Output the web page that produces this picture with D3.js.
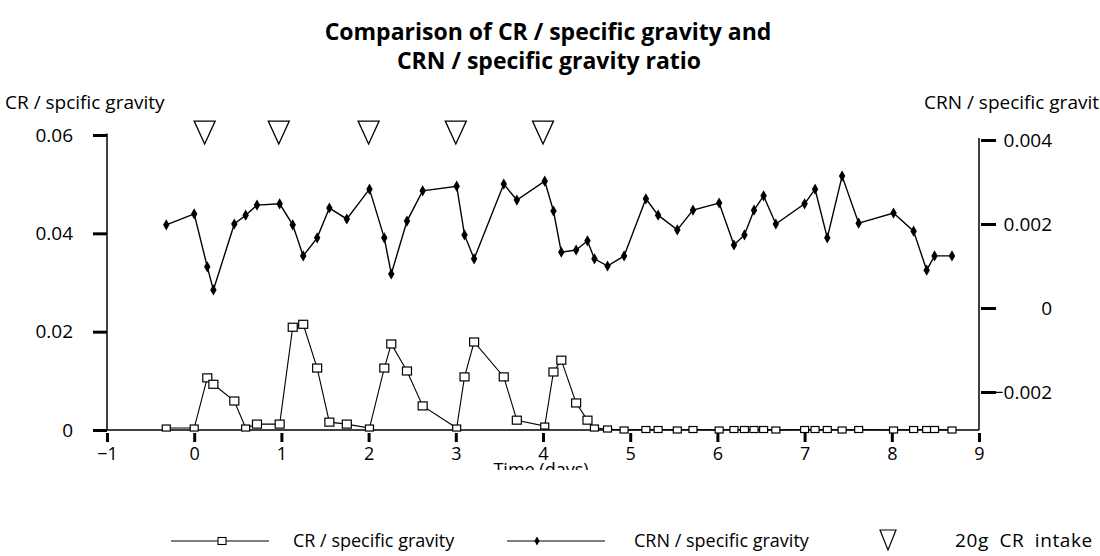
<!DOCTYPE html>
<html>
<head>
<meta charset="utf-8">
<script src="https://cdn.jsdelivr.net/npm/d3@7"></script>
<style>
  html, body { margin: 0; padding: 0; background: #fff; }
  svg { display: block; }
  text { font-family: "Open Sans", "Noto Sans", sans-serif; fill: #000; }
</style>
</head>
<body>
<svg id="chart" width="1100" height="556"></svg>
<script>
// ---- Data ----
const times = [-0.32, 0.00, 0.15, 0.22, 0.46, 0.59, 0.72, 0.98, 1.13, 1.25, 1.41, 1.55, 1.75, 2.01, 2.18, 2.26, 2.44, 2.62,
  3.01, 3.10, 3.21, 3.55, 3.70, 4.02, 4.12, 4.21, 4.38, 4.51, 4.59, 4.74, 4.93, 5.18, 5.32, 5.54, 5.72, 6.02, 6.19, 6.31,
  6.42, 6.53, 6.67, 7.00, 7.12, 7.26, 7.43, 7.62, 8.02, 8.25, 8.40, 8.49, 8.69];

const crValues = [0.0004, 0.0004, 0.0106, 0.0093, 0.0059, 0.0004, 0.0012, 0.0012, 0.0209, 0.0215, 0.0126, 0.0016, 0.0012,
  0.0004, 0.0126, 0.0175, 0.0120, 0.0049, 0.0004, 0.0108, 0.0179, 0.0108, 0.0020, 0.0008, 0.0118, 0.0142, 0.0055, 0.0020,
  0.0004, 0.0002, 0.0000, 0.0001, 0.0001, 0.0000, 0.0001, 0.0000, 0.0001, 0.0001, 0.0001, 0.0001, 0.0000, 0.0001, 0.0001,
  0.0001, 0.0000, 0.0001, 0.0000, 0.0001, 0.0001, 0.0001, 0.0000];

const crnValues = [0.00198, 0.00224, 0.00098, 0.00043, 0.00200, 0.00221, 0.00245, 0.00248, 0.00198, 0.00124, 0.00167,
  0.00238, 0.00212, 0.00283, 0.00167, 0.00081, 0.00207, 0.00279, 0.00290, 0.00174, 0.00117, 0.00295, 0.00257, 0.00302,
  0.00231, 0.00133, 0.00138, 0.00160, 0.00117, 0.00100, 0.00124, 0.00260, 0.00221, 0.00186, 0.00233, 0.00250, 0.00150,
  0.00174, 0.00233, 0.00267, 0.00200, 0.00248, 0.00283, 0.00167, 0.00314, 0.00202, 0.00226, 0.00183, 0.00090, 0.00124,
  0.00124];

const intakeTimes = [0.12, 0.97, 2.0, 3.0, 4.0];

const xTicks = [-1, 0, 1, 2, 3, 4, 5, 6, 7, 8, 9];
const leftTicks = [0, 0.02, 0.04, 0.06];
const rightTicks = [-0.002, 0, 0.002, 0.004];

const titleLines = ["Comparison of  CR / specific gravity and", "CRN / specific gravity ratio"];
const leftLabel = "CR / spcific gravity";
const rightLabel = "CRN / specific gravit";
const xLabel = "Time (days)";
const legendLabels = ["CR / specific gravity", "CRN / specific gravity", "20g CR intake"];

// ---- Scales ----
const svg = d3.select("#chart");
const x = d3.scaleLinear().domain([-1, 9]).range([107, 979]);
const yL = d3.scaleLinear().domain([0, 0.06]).range([430, 135]);
const yR = d3.scaleLinear().domain([-0.002, 0.004]).range([392, 140]);

// ---- Title ----
svg.append("text").attr("x", 548).attr("y", 40).attr("text-anchor", "middle")
  .style("font-size", "23px").style("font-weight", "bold").text(titleLines[0]);
svg.append("text").attr("x", 549).attr("y", 69).attr("text-anchor", "middle")
  .style("font-size", "23px").style("font-weight", "bold").text(titleLines[1]);

// axis titles
svg.append("text").attr("x", 5).attr("y", 109).style("font-size", "19px").text(leftLabel);
svg.append("text").attr("x", 1099).attr("y", 109).attr("text-anchor", "end").style("font-size", "19px").text(rightLabel);

// ---- Left axis ----
const gL = svg.append("g").attr("transform", `translate(${x(-1)},0)`)
  .call(d3.axisLeft(yL).tickValues(leftTicks).tickSize(14).tickPadding(20)
    .tickFormat(d => d === 0 ? "0" : d3.format(".2f")(d)));
gL.select(".domain").remove();
gL.selectAll(".tick line").attr("stroke", "#000").attr("stroke-width", 3);
gL.selectAll(".tick text").style("font-size", "19px").style("font-family", "'Open Sans', sans-serif");
svg.append("line").attr("x1", x(-1)).attr("x2", x(-1)).attr("y1", yL(0.06) - 1.5).attr("y2", yL(0))
  .attr("stroke", "#000").attr("stroke-width", 1.5);

// ---- Right axis ----
const gR = svg.append("g").attr("transform", `translate(${x(9) + 2},0)`)
  .call(d3.axisRight(yR).tickValues(rightTicks).tickSize(15).tickPadding(0)
    .tickFormat(d => d === 0 ? "0" : d3.format(".3f")(d)));
gR.select(".domain").remove();
gR.selectAll(".tick line").attr("stroke", "#000").attr("stroke-width", 3);
gR.selectAll(".tick text").attr("x", 71).attr("text-anchor", "end")
  .style("font-size", "19px").style("font-family", "'Open Sans', sans-serif");
svg.append("line").attr("x1", x(9)).attr("x2", x(9)).attr("y1", yR(0.004) - 2).attr("y2", yL(0))
  .attr("stroke", "#000").attr("stroke-width", 1.5);

// ---- X axis ----
const gX = svg.append("g").attr("transform", `translate(0,${yL(0)})`)
  .call(d3.axisBottom(x).tickValues(xTicks).tickSize(12).tickPadding(5).tickFormat(d3.format("d")));
gX.select(".domain").remove();
gX.selectAll(".tick line").attr("stroke", "#000").attr("stroke-width", 3).attr("y1", 3);
gX.selectAll(".tick text").style("font-size", "18px").style("font-family", "'Open Sans', sans-serif");
svg.append("line").attr("x1", x(-1)).attr("x2", x(9)).attr("y1", yL(0)).attr("y2", yL(0))
  .attr("stroke", "#000").attr("stroke-width", 1.5);

// x label, clipped like the reference
svg.append("clipPath").attr("id", "xlabclip").append("rect")
  .attr("x", 0).attr("y", 461).attr("width", 1100).attr("height", 9);
svg.append("text").attr("x", 541).attr("y", 476).attr("text-anchor", "middle")
  .attr("clip-path", "url(#xlabclip)").style("font-size", "18px").text(xLabel);

// ---- Intake triangles ----
const triPath = (cx, cy, w, h) => `M${cx - w / 2},${cy - h / 2}L${cx + w / 2},${cy - h / 2}L${cx},${cy + h / 2}Z`;
svg.selectAll(".intake").data(intakeTimes).join("path").attr("class", "intake")
  .attr("d", d => triPath(x(d), yL(0.0605), 21, 23))
  .attr("fill", "none").attr("stroke", "#000").attr("stroke-width", 1.3);

// ---- CR series ----
const crData = times.map((t, i) => ({ t, v: crValues[i] }));
const crnData = times.map((t, i) => ({ t, v: crnValues[i] }));

svg.append("path").datum(crData)
  .attr("d", d3.line().x(d => x(d.t)).y(d => yL(d.v)))
  .attr("fill", "none").attr("stroke", "#000").attr("stroke-width", 1.1);
svg.selectAll(".crpt").data(crData).join("rect").attr("class", "crpt")
  .attr("x", d => x(d.t) - (d.v < 0.001 ? 4 : 4.5)).attr("y", d => yL(d.v) - (d.v < 0.001 ? 3 : 4))
  .attr("width", d => d.v < 0.001 ? 8 : 9).attr("height", d => d.v < 0.001 ? 6 : 8)
  .attr("fill", "#fff").attr("stroke", "#000").attr("stroke-width", 1.2);

// ---- CRN series ----
svg.append("path").datum(crnData)
  .attr("d", d3.line().x(d => x(d.t)).y(d => yR(d.v)))
  .attr("fill", "none").attr("stroke", "#000").attr("stroke-width", 1.4);
const diamond = d3.symbol().type(d3.symbolDiamond).size(36);
svg.selectAll(".crnpt").data(crnData).join("path").attr("class", "crnpt")
  .attr("transform", d => `translate(${x(d.t)},${yR(d.v)})`)
  .attr("d", diamond).attr("fill", "#000");

// ---- Legend ----
const ly = 541;
svg.append("line").attr("x1", 171).attr("x2", 269).attr("y1", ly).attr("y2", ly).attr("stroke", "#000").attr("stroke-width", 1.1);
svg.append("rect").attr("x", 218).attr("y", ly - 3.5).attr("width", 8).attr("height", 7)
  .attr("fill", "#fff").attr("stroke", "#000").attr("stroke-width", 1.1);
svg.append("text").attr("x", 293).attr("y", ly + 6).style("font-size", "18px").text(legendLabels[0]);

svg.append("line").attr("x1", 507).attr("x2", 605).attr("y1", ly).attr("y2", ly).attr("stroke", "#000").attr("stroke-width", 1.1);
svg.append("path").attr("transform", `translate(537,${ly})`).attr("d", d3.symbol().type(d3.symbolDiamond).size(24)).attr("fill", "#000");
svg.append("text").attr("x", 634).attr("y", ly + 6).style("font-size", "18px").text(legendLabels[1]);

svg.append("path").attr("d", triPath(888, ly - 1, 16, 20)).attr("fill", "none").attr("stroke", "#000").attr("stroke-width", 1.2);
svg.append("text").attr("x", 955).attr("y", ly + 6).style("font-size", "19px")
  .style("letter-spacing", "0.6px").style("word-spacing", "5px").text(legendLabels[2]);
</script>
</body>
</html>
